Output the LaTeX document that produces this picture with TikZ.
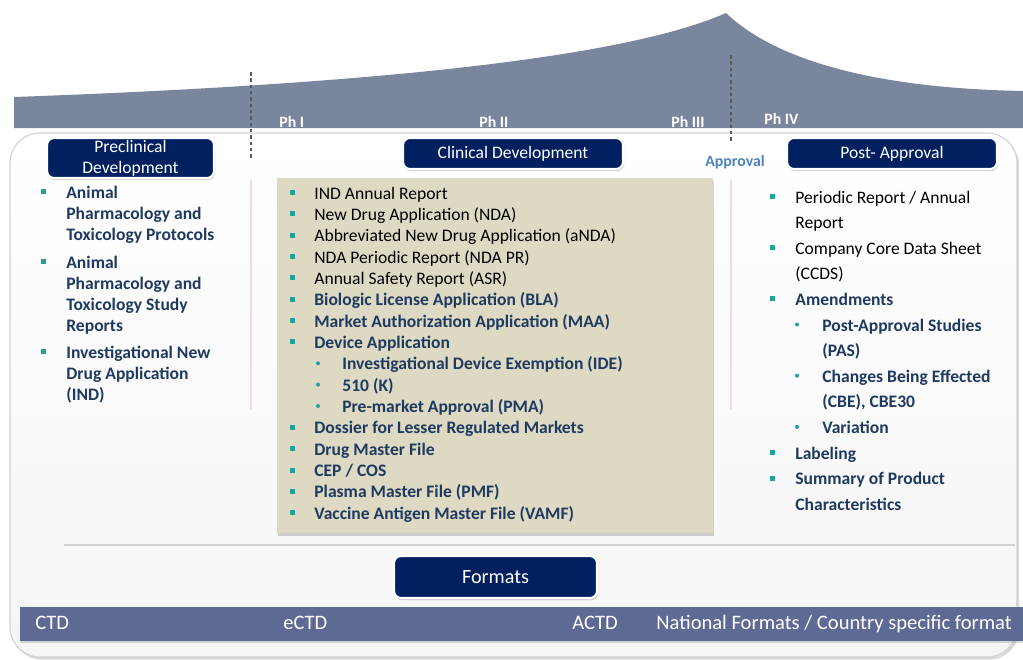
\documentclass[tikz,border=0pt]{standalone}
\usepackage{fontspec}
\setmainfont{Carlito}
\usetikzlibrary{shadows}

\definecolor{ridge}{HTML}{7A859E}
\definecolor{navy}{HTML}{002060}
\definecolor{bullteal}{HTML}{22A09C}
\definecolor{inkblue}{HTML}{1F3A60}
\definecolor{sand}{HTML}{DDD9C3}
\definecolor{blush}{HTML}{F2DCDB}
\definecolor{bandblue}{HTML}{5E6A94}
\definecolor{approvalblue}{HTML}{4F81BD}

\tikzset{
  itemtxt/.style={anchor=base west, inner sep=0pt, font=\fontsize{10}{12}\selectfont},
  reg/.style={itemtxt, text=black},
  bld/.style={itemtxt, text=inkblue, font=\fontsize{10}{12}\selectfont\bfseries},
  sqb/.style={rectangle, fill=bullteal, minimum size=0.1cm, inner sep=0pt},
  dotb/.style={circle, fill=bullteal, minimum size=0.08cm, inner sep=0pt},
  hdr/.style={rectangle, rounded corners=4pt, fill=navy, draw=white, line width=1.2pt,
    text=white, align=center, inner sep=0pt, font=\fontsize{10}{12}\selectfont,
    drop shadow={opacity=0.35, shadow xshift=0.6pt, shadow yshift=-1.2pt}},
  phlbl/.style={anchor=base west, inner sep=0pt, text=white, font=\fontsize{9}{10}\selectfont\bfseries},
  phasedash/.style={draw=black!65, dash pattern=on 2pt off 1.6pt, line width=0.6pt},
  sepline/.style={draw=blush, line width=1pt},
  panel/.style={rounded corners=0.6cm, top color=white, bottom color=black!4, draw=black!18,
    line width=0.6pt, drop shadow={opacity=0.3, shadow xshift=1.2pt, shadow yshift=-1.5pt}},
  fmttxt/.style={anchor=base west, inner sep=0pt, text=white, font=\fontsize{11.7}{13}\selectfont},
}

\begin{document}
\begin{tikzpicture}[x=0.02cm, y=-0.02cm]
\useasboundingbox (0,0) rectangle (1023,659);

% development curve rising to approval
\fill[ridge] (14,128) -- (14,97) .. controls (350,85) and (620,60) .. (726,13)
  .. controls (770,55) and (860,88) .. (1023,91) -- (1023,128) -- cycle;

% main panel
\path[panel] (10,133) rectangle (1017,657);

% phase boundaries
\coordinate (ph1top) at (251,72);
\coordinate (ph1bot) at (251,160);
\coordinate (apptop) at (731,55);
\coordinate (appbot) at (731,143);
\draw[phasedash] (ph1top) -- (ph1bot);
\draw[phasedash] (apptop) -- (appbot);

% phase labels
\node[phlbl] (ph1) at (279,127) {Ph I};
\node[phlbl] (ph2) at (479,127) {Ph II};
\node[phlbl] (ph3) at (671,127) {Ph III};
\node[phlbl] (ph4) at (764,124) {Ph IV};

\node[anchor=base west, inner sep=0pt, text=approvalblue, font=\fontsize{9}{11}\selectfont\bfseries]
  (approval) at (705,166) {Approval};

% column separators
\coordinate (sepAt) at (251,180);
\coordinate (sepAb) at (251,410);
\coordinate (sepBt) at (731,180);
\coordinate (sepBb) at (731,410);
\draw[sepline] (sepAt) -- (sepAb);
\draw[sepline] (sepBt) -- (sepBb);

% clinical submissions box
\node[rectangle, fill=sand, minimum width=8.72cm, minimum height=7.1cm, inner sep=0pt,
  drop shadow={opacity=0.35, shadow xshift=0.8pt, shadow yshift=-1.5pt}] (clinbox) at (495,355.5) {};

% stage headers
\node[hdr, minimum width=3.34cm, minimum height=0.8cm] (preclin) at (130.5,158) {Preclinical\\Development};
\node[hdr, minimum width=4.4cm, minimum height=0.62cm] (clin) at (513,153.5) {Clinical Development};
\node[hdr, minimum width=4.2cm, minimum height=0.62cm] (post) at (892,153.5) {Post- Approval};

% preclinical items
\foreach \bt/\ln/\txt [count=\i from 0] in {
  s/198/{Animal}, n/219/{Pharmacology and}, n/240/{Toxicology Protocols},
  s/268/{Animal}, n/289/{Pharmacology and}, n/310/{Toxicology Study}, n/331/{Reports},
  s/358/{Investigational New}, n/379/{Drug Application}, n/400/{(IND)}}{
  \node[bld] (p\i) at (66,\ln) {\txt};
  \if s\bt \node[sqb] (pb\i) at (43,{\ln-6.5}) {};\fi
}

% clinical items
\foreach \bt/\bx/\tx/\sty/\txt [count=\i from 0] in {
  s/292/314/reg/{IND Annual Report},
  s/292/314/reg/{New Drug Application (NDA)},
  s/292/314/reg/{Abbreviated New Drug Application (aNDA)},
  s/292/314/reg/{NDA Periodic Report (NDA PR)},
  s/292/314/reg/{Annual Safety Report (ASR)},
  s/292/314/bld/{Biologic License Application (BLA)},
  s/292/314/bld/{Market Authorization Application (MAA)},
  s/292/314/bld/{Device Application},
  d/318/342/bld/{Investigational Device Exemption (IDE)},
  d/318/342/bld/{510 (K)},
  d/318/342/bld/{Pre-market Approval (PMA)},
  s/292/314/bld/{Dossier for Lesser Regulated Markets},
  s/292/314/bld/{Drug Master File},
  s/292/314/bld/{CEP / COS},
  s/292/314/bld/{Plasma Master File (PMF)},
  s/292/314/bld/{Vaccine Antigen Master File (VAMF)}}{
  \pgfmathsetmacro{\yb}{199+21.35*\i}
  \node[\sty] (c\i) at (\tx,\yb) {\txt};
  \if s\bt \node[sqb] (cb\i) at (\bx,{\yb-6.5}) {};\fi
  \if d\bt \node[dotb] (cb\i) at (\bx,{\yb-6.5}) {};\fi
}

% post-approval items
\foreach \bt/\bx/\tx/\sty/\txt [count=\i from 0] in {
  s/772/795/reg/{Periodic Report / Annual},
  n/772/795/reg/{Report},
  s/772/795/reg/{Company Core Data Sheet},
  n/772/795/reg/{(CCDS)},
  s/772/795/bld/{Amendments},
  d/797/822/bld/{Post-Approval Studies},
  n/797/822/bld/{(PAS)},
  d/797/822/bld/{Changes Being Effected},
  n/797/822/bld/{(CBE), CBE30},
  d/797/822/bld/{Variation},
  s/772/795/bld/{Labeling},
  s/772/795/bld/{Summary of Product},
  n/772/795/bld/{Characteristics}}{
  \pgfmathsetmacro{\yb}{203+25.6*\i}
  \node[\sty] (r\i) at (\tx,\yb) {\txt};
  \if s\bt \node[sqb] (rb\i) at (\bx,{\yb-6.5}) {};\fi
  \if d\bt \node[dotb] (rb\i) at (\bx,{\yb-6.5}) {};\fi
}

% divider above formats
\coordinate (divL) at (64,545);
\coordinate (divR) at (1015,545);
\draw[black!18, line width=1.1pt] (divL) -- (divR);

% formats
\node[hdr, minimum width=4.06cm, minimum height=0.84cm, font=\fontsize{11.5}{13}\selectfont] (formats) at (495.5,577) {Formats};
\node[rectangle, fill=bandblue, minimum width=20.06cm, minimum height=0.68cm, inner sep=0pt,
  drop shadow={opacity=0.3, shadow xshift=0.5pt, shadow yshift=-1.2pt}] (band) at (521.5,624) {};
\node[fmttxt] (ctd) at (35,629) {CTD};
\node[fmttxt] (ectd) at (283,629) {eCTD};
\node[fmttxt] (actd) at (572,629) {ACTD};
\node[fmttxt] (natl) at (656,629) {National Formats / Country specific format};

\end{tikzpicture}
\end{document}
